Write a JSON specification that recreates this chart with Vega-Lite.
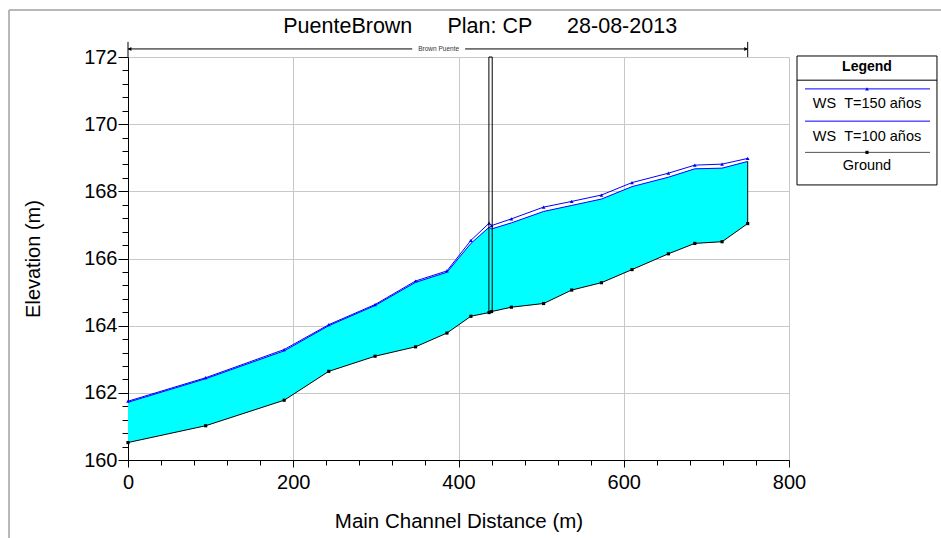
{
  "$schema": "https://vega.github.io/schema/vega-lite/v6.json",
  "width": 661,
  "height": 403,
  "autosize": {"type": "none"},
  "padding": {"left": 128, "top": 57, "right": 152, "bottom": 78},
  "background": "white",
  "config": {
    "font": "Liberation Sans",
    "view": {"stroke": null},
    "axis": {
      "domainColor": "black",
      "tickColor": "black",
      "gridColor": "#c8c8c8",
      "gridWidth": 1,
      "labelColor": "black",
      "labelFontSize": 20,
      "titleFontSize": 20,
      "titleFontWeight": "normal",
      "titleColor": "black",
      "labelOverlap": false,
      "labelFlush": false
    }
  },
  "datasets": {
    "water": [
      {"x": 0, "y": 161.72, "y2": 160.52},
      {"x": 94, "y": 162.42, "y2": 161.02},
      {"x": 189, "y": 163.25, "y2": 161.78},
      {"x": 243, "y": 164.0, "y2": 162.64},
      {"x": 299, "y": 164.6, "y2": 163.09},
      {"x": 348, "y": 165.29, "y2": 163.37},
      {"x": 386, "y": 165.59, "y2": 163.78},
      {"x": 415, "y": 166.45, "y2": 164.28},
      {"x": 437, "y": 166.93, "y2": 164.39},
      {"x": 440, "y": 166.88, "y2": 164.42},
      {"x": 464, "y": 167.06, "y2": 164.55},
      {"x": 503, "y": 167.4, "y2": 164.66},
      {"x": 537, "y": 167.58, "y2": 165.06},
      {"x": 573, "y": 167.77, "y2": 165.28},
      {"x": 610, "y": 168.14, "y2": 165.67},
      {"x": 654, "y": 168.42, "y2": 166.14},
      {"x": 686, "y": 168.67, "y2": 166.45},
      {"x": 719, "y": 168.69, "y2": 166.5},
      {"x": 750, "y": 168.89, "y2": 167.04}
    ],
    "ws150": [
      {"x": 0, "y": 161.75},
      {"x": 94, "y": 162.45},
      {"x": 189, "y": 163.29},
      {"x": 243, "y": 164.03},
      {"x": 299, "y": 164.63},
      {"x": 348, "y": 165.33},
      {"x": 386, "y": 165.63},
      {"x": 415, "y": 166.54},
      {"x": 437, "y": 167.05},
      {"x": 440, "y": 166.98},
      {"x": 464, "y": 167.18},
      {"x": 503, "y": 167.53},
      {"x": 537, "y": 167.7},
      {"x": 573, "y": 167.89},
      {"x": 610, "y": 168.26},
      {"x": 654, "y": 168.54},
      {"x": 686, "y": 168.78},
      {"x": 719, "y": 168.81},
      {"x": 750, "y": 168.98}
    ],
    "ground": [
      {"x": 0, "y": 160.52},
      {"x": 94, "y": 161.02},
      {"x": 189, "y": 161.78},
      {"x": 243, "y": 162.64},
      {"x": 299, "y": 163.09},
      {"x": 348, "y": 163.37},
      {"x": 386, "y": 163.78},
      {"x": 415, "y": 164.28},
      {"x": 437, "y": 164.39},
      {"x": 440, "y": 164.42},
      {"x": 464, "y": 164.55},
      {"x": 503, "y": 164.66},
      {"x": 537, "y": 165.06},
      {"x": 573, "y": 165.28},
      {"x": 610, "y": 165.67},
      {"x": 654, "y": 166.14},
      {"x": 686, "y": 166.45},
      {"x": 719, "y": 166.5},
      {"x": 750, "y": 167.04}
    ],
    "bridge": [{"x": 436.8, "x2": 440.8, "y": 164.4, "y2": 172}],
    "reach": [
      {"x": 0, "x2": 344, "y": 172.24},
      {"x": 408, "x2": 750, "y": 172.24}
    ],
    "reachEnds": [
      {"x": 0, "y": 172.45, "y2": 172.0},
      {"x": 750, "y": 172.45, "y2": 172.0}
    ],
    "arrowLeft": [{"x": 2, "y": 172.24}],
    "arrowRight": [{"x": 748, "y": 172.24}],
    "reachLabel": [{"x": 376, "y": 172.24, "t": "Brown Puente"}],
    "titleParts": [
      {"x": 266, "y": 172.89, "t": "PuenteBrown"},
      {"x": 438, "y": 172.89, "t": "Plan: CP"},
      {"x": 598, "y": 172.89, "t": "28-08-2013"}
    ],
    "legendBox": [{"x": 809.7, "x2": 979.1, "y": 168.19, "y2": 172.03}],
    "legendSep": [{"x": 809.7, "x2": 979.1, "y": 171.31}],
    "legendHeader": [{"x": 894.4, "y": 171.7, "t": "Legend"}],
    "legendWS": [
      {"x": 819.4, "x2": 970.7, "y": 171.05},
      {"x": 819.4, "x2": 970.7, "y": 170.09}
    ],
    "legendGround": [{"x": 819.4, "x2": 970.7, "y": 169.16}],
    "legendTri": [{"x": 894.4, "y": 171.05}],
    "legendSq": [{"x": 894.4, "y": 169.16}],
    "legendLabels": [
      {"x": 894.4, "y": 170.6, "t": "WS\u00a0\u00a0T=150 años"},
      {"x": 894.4, "y": 169.62, "t": "WS\u00a0\u00a0T=100 años"},
      {"x": 894.4, "y": 168.75, "t": "Ground"}
    ],
    "frameLeft": [{"x": -144, "y": 173.4, "y2": 157.5}],
    "frameTop": [{"x": -144, "x2": 990, "y": 173.4}]
  },
  "encoding": {
    "x": {
      "field": "x", "type": "quantitative",
      "scale": {"domain": [0, 800], "nice": false, "zero": false},
      "axis": {
        "title": "Main Channel Distance (m)",
        "format": "d",
        "values": [0, 40, 80, 120, 160, 200, 240, 280, 320, 360, 400, 440, 480, 520, 560, 600, 640, 680, 720, 760, 800],
        "labelExpr": "datum.value % 200 === 0 ? datum.label : ''",
        "tickSize": {"condition": {"test": "datum.value % 200 === 0", "value": 7}, "value": 5},
        "gridOpacity": {"condition": {"test": "datum.value % 200 === 0", "value": 1}, "value": 0},
        "labelPadding": 5,
        "titlePadding": 19,
        "titleFontSize": 20.5
      }
    },
    "y": {
      "field": "y", "type": "quantitative",
      "scale": {"domain": [160, 172], "nice": false, "zero": false},
      "axis": {
        "title": "Elevation (m)",
        "format": ".0f",
        "values": [160, 160.4, 160.8, 161.2, 161.6, 162, 162.4, 162.8, 163.2, 163.6, 164, 164.4, 164.8, 165.2, 165.6, 166, 166.4, 166.8, 167.2, 167.6, 168, 168.4, 168.8, 169.2, 169.6, 170, 170.4, 170.8, 171.2, 171.6, 172],
        "labelExpr": "datum.value % 2 === 0 ? datum.label : ''",
        "tickSize": {"condition": {"test": "datum.value % 2 === 0", "value": 10}, "value": 6},
        "gridOpacity": {"condition": {"test": "datum.value % 2 === 0", "value": 1}, "value": 0},
        "labelPadding": 1,
        "titlePadding": 40
      }
    }
  },
  "layer": [
    {
      "data": {"name": "water"},
      "mark": {"type": "area", "color": "#00ffff", "opacity": 1},
      "encoding": {"y2": {"field": "y2"}}
    },
    {
      "data": {"name": "water"},
      "transform": [{"filter": "datum.x === 750"}],
      "mark": {"type": "rule", "color": "black", "strokeWidth": 1},
      "encoding": {"y2": {"field": "y2"}}
    },
    {
      "data": {"name": "water"},
      "mark": {"type": "line", "color": "#0000ff", "strokeWidth": 1},
      "encoding": {}
    },
    {
      "data": {"name": "ws150"},
      "mark": {"type": "line", "color": "#0000ff", "strokeWidth": 1, "point": {"shape": "triangle-up", "size": 14, "filled": true, "color": "#0000ff"}},
      "encoding": {}
    },
    {
      "data": {"name": "ground"},
      "mark": {"type": "line", "color": "black", "strokeWidth": 1, "point": {"shape": "square", "size": 10, "filled": true, "color": "black"}},
      "encoding": {}
    },
    {
      "data": {"name": "bridge"},
      "mark": {"type": "rect", "fill": "transparent", "stroke": "black", "strokeWidth": 1},
      "encoding": {"x2": {"field": "x2"}, "y2": {"field": "y2"}}
    },
    {
      "data": {"name": "reach"},
      "mark": {"type": "rule", "color": "black", "strokeWidth": 1},
      "encoding": {"x2": {"field": "x2"}}
    },
    {
      "data": {"name": "reachEnds"},
      "mark": {"type": "rule", "color": "black", "strokeWidth": 1},
      "encoding": {"y2": {"field": "y2"}}
    },
    {
      "data": {"name": "arrowLeft"},
      "mark": {"type": "point", "shape": "triangle-left", "size": 16, "filled": true, "color": "black", "opacity": 1}
    },
    {
      "data": {"name": "arrowRight"},
      "mark": {"type": "point", "shape": "triangle-right", "size": 16, "filled": true, "color": "black", "opacity": 1}
    },
    {
      "data": {"name": "reachLabel"},
      "mark": {"type": "text", "fontSize": 6.5, "color": "#333333", "align": "center", "baseline": "middle"},
      "encoding": {"text": {"field": "t"}}
    },
    {
      "data": {"name": "titleParts"},
      "mark": {"type": "text", "fontSize": 21.5, "color": "black", "align": "center", "baseline": "middle"},
      "encoding": {"text": {"field": "t"}}
    },
    {
      "data": {"name": "legendBox"},
      "mark": {"type": "rect", "fill": "white", "stroke": "black", "strokeWidth": 1},
      "encoding": {"x2": {"field": "x2"}, "y2": {"field": "y2"}}
    },
    {
      "data": {"name": "legendSep"},
      "mark": {"type": "rule", "color": "black", "strokeWidth": 1},
      "encoding": {"x2": {"field": "x2"}}
    },
    {
      "data": {"name": "legendWS"},
      "mark": {"type": "rule", "color": "#0000ff", "strokeWidth": 1},
      "encoding": {"x2": {"field": "x2"}}
    },
    {
      "data": {"name": "legendGround"},
      "mark": {"type": "rule", "color": "#555555", "strokeWidth": 1},
      "encoding": {"x2": {"field": "x2"}}
    },
    {
      "data": {"name": "legendTri"},
      "mark": {"type": "point", "shape": "triangle-up", "size": 14, "filled": true, "color": "#0000ff", "opacity": 1}
    },
    {
      "data": {"name": "legendSq"},
      "mark": {"type": "point", "shape": "square", "size": 10, "filled": true, "color": "black", "opacity": 1}
    },
    {
      "data": {"name": "legendHeader"},
      "mark": {"type": "text", "fontSize": 14, "fontWeight": "bold", "color": "black", "align": "center", "baseline": "middle"},
      "encoding": {"text": {"field": "t"}}
    },
    {
      "data": {"name": "legendLabels"},
      "mark": {"type": "text", "fontSize": 14.5, "color": "black", "align": "center", "baseline": "middle"},
      "encoding": {"text": {"field": "t"}}
    },
    {
      "data": {"name": "frameLeft"},
      "mark": {"type": "rule", "color": "#a0a0a0", "strokeWidth": 1.5},
      "encoding": {"y2": {"field": "y2"}}
    },
    {
      "data": {"name": "frameTop"},
      "mark": {"type": "rule", "color": "#a0a0a0", "strokeWidth": 1.5},
      "encoding": {"x2": {"field": "x2"}}
    }
  ]
}
